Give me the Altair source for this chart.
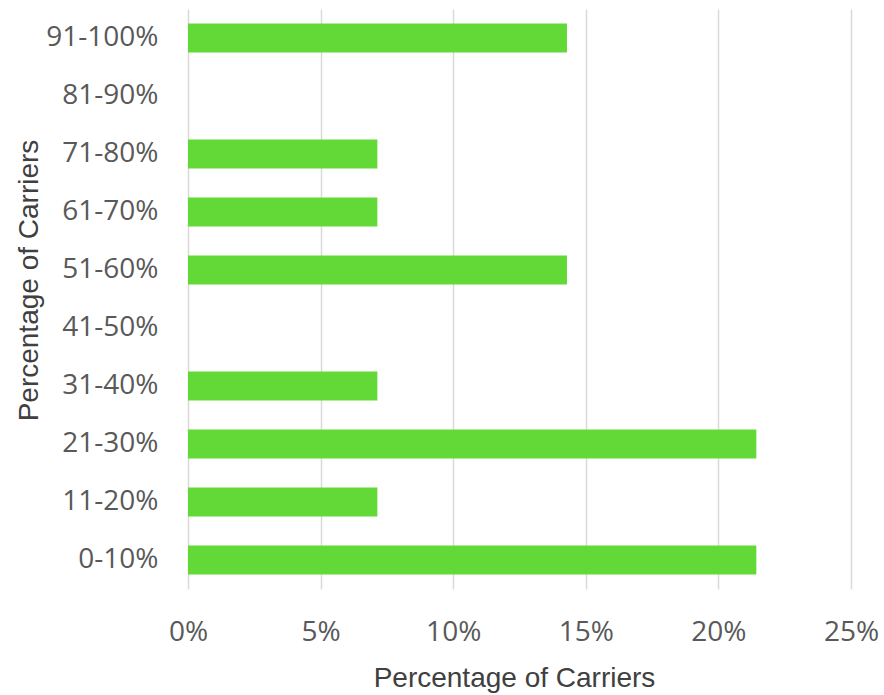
import altair as alt
import pandas as pd

categories = ["0-10%", "11-20%", "21-30%", "31-40%", "41-50%",
              "51-60%", "61-70%", "71-80%", "81-90%", "91-100%"]
values = [0.2143, 0.0714, 0.2143, 0.0714, 0.0,
          0.1429, 0.0714, 0.0714, 0.0, 0.1429]

df = pd.DataFrame({"cat": categories, "val": values})

chart = alt.Chart(df).mark_bar(color="#62d936").encode(
    x=alt.X("val:Q",
            scale=alt.Scale(domain=[0, 0.25], nice=False),
            axis=alt.Axis(format=".0%", values=[0, 0.05, 0.10, 0.15, 0.20, 0.25],
                          title="Percentage of Carriers",
                          grid=True, gridColor="#d9d9d9", gridWidth=1.5,
                          domain=False, ticks=False, labelFlush=False,
                          labelFont="Open Sans", labelFontSize=28, labelColor="#595959",
                          labelPadding=29,
                          titleFont="Liberation Sans", titleFontSize=28, titleColor="#404040",
                          titleFontWeight="normal", titleX=326, titleY=89,
                          titleBaseline="middle")),
    y=alt.Y("cat:N", sort=categories[::-1],
            scale=alt.Scale(paddingInner=0.5, paddingOuter=0.25),
            axis=alt.Axis(title="Percentage of Carriers", domain=False, ticks=False,
                          labelFont="Open Sans", labelFontSize=28, labelColor="#595959",
                          labelPadding=30,
                          titleFont="Liberation Sans", titleFontSize=28, titleColor="#404040",
                          titleFontWeight="normal", titleX=-159, titleY=271,
                          titleBaseline="middle", titleAngle=-90)),
).properties(
    width=663, height=580,
    autosize=alt.AutoSizeParams(type="none"),
    padding={"left": 188, "top": 9, "right": 33, "bottom": 106},
).configure_view(stroke=None)

chart.save("out.html", embed_options={"renderer": "svg", "actions": False})
